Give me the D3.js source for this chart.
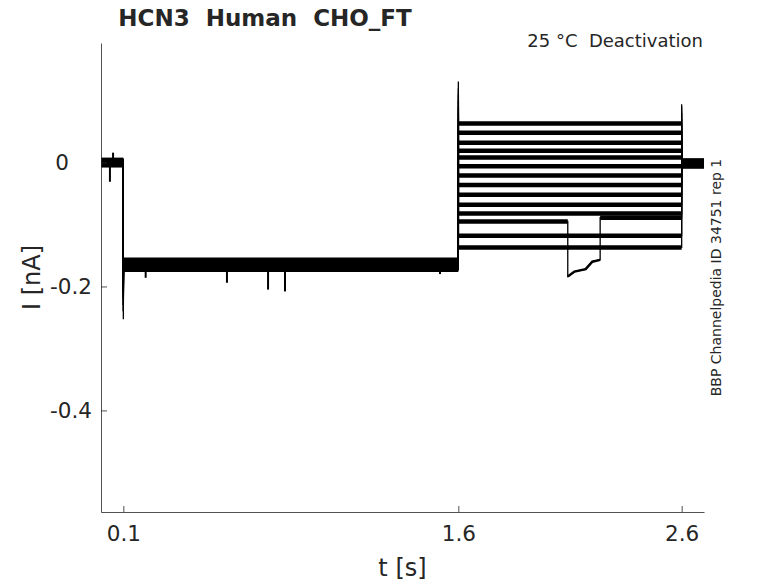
<!DOCTYPE html>
<html>
<head>
<meta charset="utf-8">
<script src="https://cdn.jsdelivr.net/npm/d3@7"></script>
<style>
  body { margin: 0; background: #fff; }
  text { font-family: "DejaVu Sans", sans-serif; fill: #262626; white-space: pre; }
</style>
</head>
<body>
<svg id="chart" width="778" height="583"></svg>
<script>
// protocol epochs [s]
const epochTimes = [0, 0.1, 1.6, 2.6, 2.7];

// per-sweep levels [nA]
const holdLevels = [0.003, 0.001, -0.002, 0.000, 0.004, -0.003, 0.002, -0.001, 0.001, -0.004, 0.003, 0.000, -0.002, 0.002];
const preLevels = [-0.157, -0.160, -0.161, -0.163, -0.164, -0.165, -0.166, -0.167, -0.168, -0.169, -0.162, -0.170, -0.173, -0.159];
const stepLevels = [0.063, 0.048, 0.032, 0.019, 0.008, -0.006, -0.021, -0.036, -0.052, -0.068, -0.082, -0.095, -0.118, -0.137];
const endLevels = [0.002, -0.001, 0.001, -0.003, 0.000, 0.003, -0.002, 0.001, -0.004, 0.002, 0.000, -0.006, 0.001, -0.002];
const onPeaks = [-0.253, -0.24, -0.23, -0.22, -0.21, -0.2, -0.2, -0.21, -0.22, -0.23, -0.24, -0.22, -0.2, -0.21];
const stepPeaks = [0.131, 0.12, 0.11, 0.1, 0.09, 0.08, 0.07, 0.06, 0.05, 0.04, 0.03, 0.02, 0.0, -0.02];
const offPeaks = [0.094, 0.09, 0.08, 0.07, 0.06, 0.05, 0.04, 0.03, 0.02, 0.01, 0.0, -0.01, -0.02, -0.03];

// one sweep drops out during the test step
const dipTrace = 11;
const dipTimes = [2.09, 2.09, 2.12, 2.17, 2.2, 2.235, 2.235];
const dipValues = [-0.095, -0.184, -0.176, -0.172, -0.160, -0.157, -0.089];

// isolated glitches
const glitchTimes = [0.040, 0.054, 0.200, 0.564, 0.748, 0.824, 1.518];
const glitchBase = [0, 0, -0.168, -0.168, -0.168, -0.168, -0.168];
const glitchValues = [-0.031, 0.016, -0.186, -0.194, -0.205, -0.208, -0.180];

const xTicks = [0.1, 1.6, 2.6];
const xTickLabels = ["0.1", "1.6", "2.6"];
const yTicks = [-0.4, -0.2, 0];
const yTickLabels = ["-0.4", "-0.2", "0"];

const svg = d3.select("#chart");
const margin = { top: 43, right: 74, bottom: 71, left: 101 };
const width = 778, height = 583;

const x = d3.scaleLinear().domain([0, 2.7]).range([margin.left, width - margin.right]);
const y = d3.scaleLinear().domain([-0.564, 0.193]).range([height - margin.bottom, margin.top]);

const line = d3.line().x(d => x(d[0])).y(d => y(d[1]));
const dt = 0.0008;
const [t0, tOn, tStep, tOff, tEnd] = epochTimes;

const traces = svg.append("g").attr("fill", "none").attr("stroke", "#000");

stepLevels.forEach((lvl, i) => {
  // full sweep, thin, carries the transients
  const pts = [
    [t0, holdLevels[i]], [tOn, holdLevels[i]], [tOn, onPeaks[i]], [tOn + dt, preLevels[i]],
    [tStep, preLevels[i]], [tStep, stepPeaks[i]], [tStep + dt, lvl]
  ];
  if (i === dipTrace) dipTimes.forEach((t, k) => pts.push([t, dipValues[k]]));
  const lastStep = i === dipTrace ? dipValues[dipValues.length - 1] : lvl;
  pts.push([tOff, lastStep], [tOff, offPeaks[i]], [tOff + dt, endLevels[i]], [tEnd, endLevels[i]]);
  traces.append("path").attr("d", line(pts)).attr("stroke-width", 1.3);

  // plateaus drawn thicker to stand in for the recording noise
  traces.append("path").attr("d", line([[t0, holdLevels[i]], [tOn, holdLevels[i]]])).attr("stroke-width", 5);
  traces.append("path").attr("d", line([[tOn + dt, preLevels[i]], [tStep, preLevels[i]]])).attr("stroke-width", 4.5);
  if (i === dipTrace) {
    traces.append("path").attr("d", line([[tStep + dt, lvl], [dipTimes[0], lvl]])).attr("stroke-width", 4.5);
    traces.append("path").attr("d", line(dipTimes.slice(1, 6).map((t, k) => [t, dipValues[k + 1]]))).attr("stroke-width", 2.5);
    traces.append("path").attr("d", line([[dipTimes[6], lastStep], [tOff, lastStep]])).attr("stroke-width", 4.5);
  } else {
    traces.append("path").attr("d", line([[tStep + dt, lvl], [tOff, lvl]])).attr("stroke-width", 4.5);
  }
  traces.append("path").attr("d", line([[tOff + dt, endLevels[i]], [tEnd, endLevels[i]]])).attr("stroke-width", 5);
});

glitchTimes.forEach((t, k) => {
  traces.append("path").attr("d", line([[t, glitchBase[k]], [t, glitchValues[k]]])).attr("stroke-width", 2);
});

// axes
const xAxis = svg.append("g")
  .attr("transform", `translate(0,${height - margin.bottom})`)
  .call(d3.axisBottom(x).tickValues(xTicks).tickFormat((d, i) => xTickLabels[i])
    .tickSizeInner(-6).tickSizeOuter(0).tickPadding(14));
const yAxis = svg.append("g")
  .attr("transform", `translate(${margin.left},0)`)
  .call(d3.axisLeft(y).tickValues(yTicks).tickFormat((d, i) => yTickLabels[i])
    .tickSizeInner(-6).tickSizeOuter(0).tickPadding(9));

[xAxis, yAxis].forEach(a => {
  a.select(".domain").attr("stroke", "#262626").attr("stroke-width", 0.8);
  a.selectAll(".tick line").attr("stroke", "#262626").attr("stroke-width", 0.8);
  a.selectAll(".tick text").attr("font-size", 21.5).attr("font-family", "DejaVu Sans").attr("fill", "#262626");
});
yAxis.selectAll(".tick").filter(d => d === 0).select("text").attr("dx", -23);

// labels
svg.append("text")
  .attr("x", (margin.left + width - margin.right) / 2).attr("y", 576)
  .attr("text-anchor", "middle").attr("font-size", 24)
  .text("t [s]");

svg.append("text")
  .attr("transform", `translate(40,${(margin.top + height - margin.bottom) / 2}) rotate(-90)`)
  .attr("text-anchor", "middle").attr("font-size", 24)
  .text("I [nA]");

svg.append("text")
  .attr("x", 265).attr("y", 26)
  .attr("text-anchor", "middle").attr("font-size", 23).attr("font-weight", "bold")
  .attr("fill", "#000")
  .text("HCN3  Human  CHO_FT");

svg.append("text")
  .attr("x", 703).attr("y", 47)
  .attr("text-anchor", "end").attr("font-size", 18).attr("fill", "#000")
  .text("25 °C  Deactivation");

svg.append("text")
  .attr("transform", `translate(721,${(margin.top + height - margin.bottom) / 2}) rotate(-90)`)
  .attr("text-anchor", "middle").attr("font-size", 14).attr("fill", "#000")
  .text("BBP Channelpedia ID 34751 rep 1");
</script>
</body>
</html>
